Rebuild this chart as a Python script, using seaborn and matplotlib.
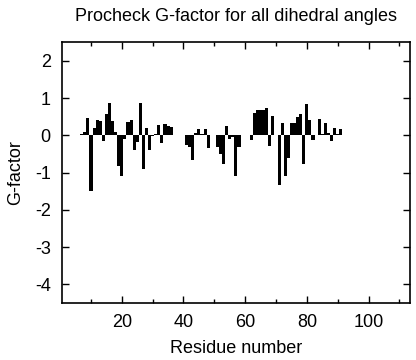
import numpy as np
import pandas as pd
import matplotlib
matplotlib.use('Agg')
import matplotlib.pyplot as plt
import seaborn as sns
from matplotlib.ticker import MultipleLocator

# residue numbers and G-factor values
residues = list(range(7, 92))
gfactor = [0.04, 0.10, 0.46, -1.49, 0.20, 0.41, 0.38, -0.14, 0.57, 0.87,   # 7-16
           0.39, 0.09, -0.82, -1.08, -0.09, 0.35, 0.41, -0.40, -0.18, 0.86,  # 17-26
           -0.89, 0.21, -0.39, -0.02, 0.03, 0.28, -0.20, 0.30, 0.25, 0.22,   # 27-36
           0.0, 0.0, 0.0, 0.0, -0.25, -0.30, -0.67, 0.06, 0.18, 0.04,        # 37-46
           0.16, -0.35, 0.0, 0.0, -0.30, -0.49, -0.77, 0.26, -0.11, -0.05,   # 47-56
           -1.10, -0.30, 0.02, 0.02, 0.02, -0.13, 0.60, 0.68, 0.68, 0.67,    # 57-66
           0.72, -0.28, 0.53, 0.01, -1.32, 0.33, -1.08, -0.60, 0.33, 0.33,   # 67-76
           0.48, 0.57, -0.77, 0.83, 0.40, -0.13, 0.02, 0.45, 0.03, 0.34,     # 77-86
           0.07, -0.16, 0.20, 0.03, 0.18]                                    # 87-91

title = 'Procheck G-factor for all dihedral angles'
xlabel = 'Residue number'
ylabel = 'G-factor'

df = pd.DataFrame({'Residue': residues, 'G': gfactor})

sns.set_style('ticks')
plt.rcParams['font.family'] = ['Liberation Sans', 'DejaVu Sans']
plt.rcParams['axes.unicode_minus'] = False
plt.rcParams['text.color'] = 'black'
plt.rcParams['axes.labelcolor'] = 'black'
plt.rcParams['xtick.color'] = 'black'
plt.rcParams['ytick.color'] = 'black'

fig = plt.figure(figsize=(4.16, 3.6), dpi=100)
ax = fig.add_axes([0.149, 0.158, 0.837, 0.725])

sns.barplot(data=df, x='Residue', y='G', native_scale=True, color='black',
            saturation=1, width=1.0, linewidth=0, errorbar=None, ax=ax)

ax.set_xlim(0.6, 113.5)
ax.set_ylim(-4.5, 2.5)
ax.xaxis.set_major_locator(MultipleLocator(20))
ax.xaxis.set_minor_locator(MultipleLocator(10))
ax.yaxis.set_major_locator(MultipleLocator(1))
ax.tick_params(which='both', direction='in', top=True, right=True,
               labelsize=13, pad=8, width=1, color='black', labelcolor='black')
ax.tick_params(which='major', length=5)
ax.tick_params(which='minor', length=3)
for s in ax.spines.values():
    s.set_linewidth(1.2)
    s.set_color('black')

ax.set_title(title, fontsize=13, pad=15, color='black')
ax.set_xlabel(xlabel, fontsize=13, labelpad=6, color='black')
ax.set_ylabel(ylabel, fontsize=13, labelpad=8, color='black')

fig.savefig('out.png', dpi=100)
